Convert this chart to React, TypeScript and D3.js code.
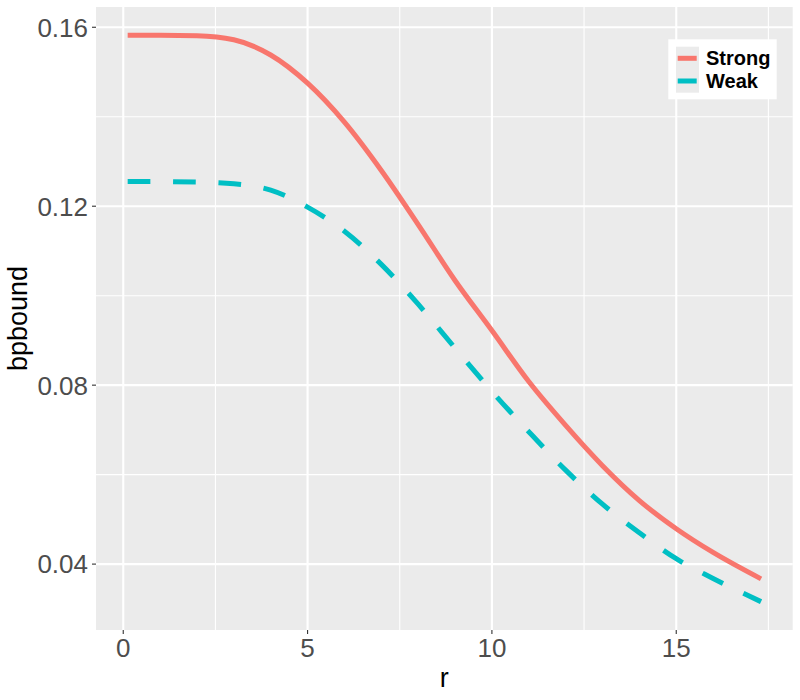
import React, { useEffect, useRef } from 'react'
import * as d3 from 'd3'

// values
const rValues = [0.12, 1, 2, 3, 4, 5, 6, 7, 8, 9, 10, 11, 12, 13, 14, 15, 16, 17.3]
const strongValues = [0.1582, 0.1582, 0.1581, 0.1572, 0.1538, 0.1475, 0.1388, 0.128, 0.1159, 0.1034, 0.0922, 0.0808, 0.071, 0.062, 0.0542, 0.0479, 0.0426, 0.0367]
const weakValues = [0.1255, 0.1255, 0.1254, 0.125, 0.1236, 0.1198, 0.1144, 0.107, 0.0981, 0.0883, 0.0786, 0.0696, 0.061, 0.0534, 0.047, 0.0412, 0.0368, 0.0316]
const seriesNames = ['Strong', 'Weak']
const seriesColors = ['#F8766D', '#00BFC4']
const xTicks = [0, 5, 10, 15]
const xMinor = [2.5, 7.5, 12.5, 17.5]
const yTicks = [0.04, 0.08, 0.12, 0.16]
const yMinor = [0.06, 0.1, 0.14]

const FONT = '"Liberation Sans", Arial, sans-serif'

const App: React.FC = () => {
  const svgRef = useRef<SVGSVGElement>(null)

  useEffect(() => {
    if (!svgRef.current) return
    const svg = d3.select(svgRef.current)
    svg.selectAll('*').remove()

    const width = 800
    const height = 700
    const left = 96
    const right = 792.7
    const top = 7
    const bottom = 630

    // ggplot style 5% expansion
    const expand = (lo: number, hi: number) => {
      const pad = (hi - lo) * 0.05
      return [lo - pad, hi + pad]
    }
    const allY = [...strongValues, ...weakValues]
    const x = d3.scaleLinear()
      .domain(expand(d3.min(rValues)!, d3.max(rValues)!))
      .range([left, right])
    const y = d3.scaleLinear()
      .domain(expand(d3.min(allY)!, d3.max(allY)!))
      .range([bottom, top])

    svg.attr('width', width).attr('height', height)

    svg.append('rect')
      .attr('x', left).attr('y', top)
      .attr('width', right - left).attr('height', bottom - top)
      .attr('fill', '#EBEBEB')

    // minor grid
    xMinor.forEach(v => {
      svg.append('line')
        .attr('x1', x(v)).attr('x2', x(v)).attr('y1', top).attr('y2', bottom)
        .attr('stroke', '#fff').attr('stroke-width', 1.1)
    })
    yMinor.forEach(v => {
      svg.append('line')
        .attr('x1', left).attr('x2', right).attr('y1', y(v)).attr('y2', y(v))
        .attr('stroke', '#fff').attr('stroke-width', 1.1)
    })
    // major grid
    xTicks.forEach(v => {
      svg.append('line')
        .attr('x1', x(v)).attr('x2', x(v)).attr('y1', top).attr('y2', bottom)
        .attr('stroke', '#fff').attr('stroke-width', 2.1)
    })
    yTicks.forEach(v => {
      svg.append('line')
        .attr('x1', left).attr('x2', right).attr('y1', y(v)).attr('y2', y(v))
        .attr('stroke', '#fff').attr('stroke-width', 2.1)
    })

    // lines
    const seriesData = [strongValues, weakValues]
    const line = d3.line<number>()
      .x((_, i) => x(rValues[i]))
      .y(d => y(d))
      .curve(d3.curveMonotoneX)

    const panel = svg.append('g')
    seriesData.forEach((vals, s) => {
      panel.append('path')
        .datum(vals)
        .attr('d', line)
        .attr('fill', 'none')
        .attr('stroke', seriesColors[s])
        .attr('stroke-width', 5)
        .attr('stroke-dasharray', s === 1 ? '22.7 22.7' : null)
    })

    // axes ticks
    xTicks.forEach(v => {
      svg.append('line')
        .attr('x1', x(v)).attr('x2', x(v)).attr('y1', bottom).attr('y2', bottom + 4)
        .attr('stroke', '#333').attr('stroke-width', 1.1)
      svg.append('text')
        .attr('x', x(v)).attr('y', 657)
        .attr('text-anchor', 'middle')
        .style('font-family', FONT).style('font-size', '26px')
        .style('fill', '#4D4D4D')
        .text(String(v))
    })
    yTicks.forEach(v => {
      svg.append('line')
        .attr('x1', left - 4).attr('x2', left).attr('y1', y(v)).attr('y2', y(v))
        .attr('stroke', '#333').attr('stroke-width', 1.1)
      svg.append('text')
        .attr('x', 88).attr('y', y(v))
        .attr('dy', '0.36em')
        .attr('text-anchor', 'end')
        .style('font-family', FONT).style('font-size', '26px')
        .style('fill', '#4D4D4D')
        .text(d3.format('.2f')(v))
    })

    // axis titles
    svg.append('text')
      .attr('x', (left + right) / 2).attr('y', 687)
      .attr('text-anchor', 'middle')
      .style('font-family', FONT).style('font-size', '27px')
      .style('fill', '#000')
      .text('r')
    svg.append('text')
      .attr('transform', `translate(27, ${(top + bottom) / 2}) rotate(-90)`)
      .attr('text-anchor', 'middle')
      .style('font-family', FONT).style('font-size', '27px')
      .style('fill', '#000')
      .text('bpbound')

    // legend
    const legend = svg.append('g').attr('transform', 'translate(668.3, 39.3)')
    legend.append('rect')
      .attr('width', 108.4).attr('height', 60)
      .attr('fill', '#fff')
    legend.append('rect')
      .attr('x', 7.7).attr('y', 7.4)
      .attr('width', 23).attr('height', 46)
      .attr('fill', '#EBEBEB')
    seriesNames.forEach((name, i) => {
      const cy = 19 + i * 22.7
      legend.append('line')
        .attr('x1', 9.4).attr('x2', 28.4).attr('y1', cy).attr('y2', cy)
        .attr('stroke', seriesColors[i]).attr('stroke-width', 5)
      legend.append('text')
        .attr('x', 37.7).attr('y', cy)
        .attr('dy', '0.36em')
        .style('font-family', FONT).style('font-size', '20px')
        .style('font-weight', 'bold')
        .style('fill', '#000')
        .text(name)
    })
  }, [])

  return (
    <svg ref={svgRef} style={{ position: 'absolute', left: 0, top: 0 }}></svg>
  )
}

export default App
